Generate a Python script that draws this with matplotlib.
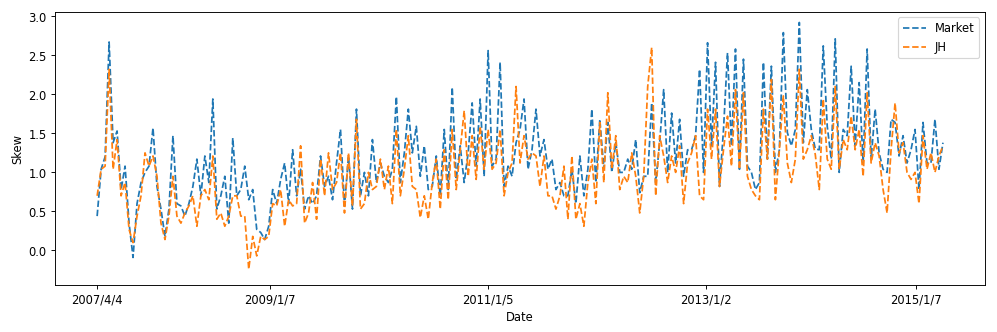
# Skew of market vs JH, weekly
import matplotlib
matplotlib.use("Agg")
import matplotlib.pyplot as plt
import numpy as np

# values (one point every ~4 px)
market = [0.44, 1.04, 1.20, 2.67, 1.38, 1.53, 0.78, 1.08, 0.35, -0.09,
          0.60, 0.87, 1.00, 1.08, 1.57, 0.82, 0.53, 0.18, 0.53, 1.47,
          0.60, 0.57, 0.44, 0.60, 0.82, 1.17, 0.70, 1.21, 0.87, 1.94,
          0.53, 0.70, 0.95, 0.35, 1.44, 0.70, 0.78, 1.08, 0.65, 0.78,
          0.27, 0.23, 0.14, 0.31, 0.78, 0.60, 0.91, 1.12, 0.60, 1.29,
          0.70, 1.04, 0.53, 0.70, 0.60, 0.70, 1.21, 0.82, 0.95, 0.65,
          1.12, 1.55, 0.57, 1.21, 0.53, 1.81, 0.70, 1.00, 0.70, 1.42,
          0.87, 1.12, 0.95, 0.87, 1.04, 1.97, 0.87, 1.25, 1.81, 1.25,
          1.59, 0.95, 1.34, 0.78, 0.82, 1.21, 0.70, 1.55, 0.78, 2.09,
          0.91, 1.34, 0.87, 1.25, 1.89, 1.08, 1.94, 0.95, 2.56, 1.08,
          1.17, 2.41, 0.82, 1.08, 0.95, 1.38, 1.55, 1.94, 1.04, 1.29,
          1.81, 1.21, 1.42, 1.04, 1.17, 0.78, 0.87, 0.70, 0.70, 1.04,
          0.60, 1.21, 0.70, 1.04, 1.81, 0.87, 1.68, 1.04, 1.64, 1.00,
          1.38, 1.00, 1.00, 1.17, 1.04, 1.42, 0.74, 0.95, 0.95, 1.89,
          0.87, 1.38, 2.06, 1.00, 1.76, 1.12, 1.68, 0.95, 1.29, 1.29,
          1.47, 2.32, 1.00, 2.66, 1.34, 2.41, 0.82, 1.55, 2.53, 1.34,
          2.58, 1.04, 2.45, 1.08, 1.00, 0.78, 0.87, 2.41, 1.17, 2.36,
          1.00, 1.29, 2.79, 1.51, 1.34, 1.55, 2.92, 1.38, 2.06, 1.55,
          1.30, 1.29, 2.62, 1.59, 1.17, 2.71, 1.00, 1.55, 1.47, 2.36,
          1.34, 2.15, 1.12, 2.58, 1.17, 1.81, 1.25, 1.04, 1.00, 1.68,
          1.64, 1.21, 1.47, 1.12, 1.29, 1.55, 0.78, 1.64, 1.12, 1.12,
          1.68, 1.04, 1.38]

jh = [0.70, 1.04, 1.08, 2.32, 1.04, 1.42, 0.70, 0.87, 0.27, 0.10,
      0.44, 0.70, 1.25, 1.08, 1.21, 0.95, 0.35, 0.14, 0.44, 0.95,
      0.44, 0.35, 0.48, 0.57, 0.70, 0.31, 0.70, 0.78, 0.65, 1.21,
      0.40, 0.48, 0.31, 0.44, 0.70, 0.70, 0.44, 0.44, -0.24, 0.18,
      -0.07, 0.18, 0.14, 0.18, 0.60, 0.57, 0.78, 0.31, 0.65, 0.57,
      0.60, 1.34, 0.35, 0.48, 0.87, 0.40, 1.17, 0.70, 1.25, 0.78,
      0.87, 1.25, 0.48, 1.25, 0.57, 1.68, 0.53, 0.60, 1.00, 0.78,
      0.82, 1.17, 0.78, 1.08, 0.60, 1.55, 0.70, 1.04, 1.47, 0.82,
      0.78, 0.42, 0.70, 0.40, 0.87, 1.17, 0.53, 1.29, 0.65, 1.55,
      0.78, 1.29, 1.79, 0.95, 1.47, 0.91, 1.59, 1.04, 1.55, 1.04,
      1.12, 1.55, 0.70, 1.00, 1.12, 2.10, 1.12, 1.47, 1.17, 1.25,
      1.21, 0.82, 1.21, 0.70, 0.70, 0.53, 0.70, 1.08, 0.40, 1.21,
      0.40, 0.60, 0.31, 0.87, 1.17, 0.60, 1.64, 0.87, 2.02, 1.04,
      1.47, 0.78, 0.95, 0.87, 1.25, 0.95, 0.48, 0.95, 2.10, 2.60,
      0.70, 1.47, 1.21, 0.87, 1.21, 1.00, 1.34, 0.60, 1.12, 1.25,
      1.47, 0.70, 0.65, 1.81, 1.17, 1.81, 0.82, 1.29, 1.72, 1.08,
      2.06, 1.04, 2.02, 0.95, 0.78, 0.70, 0.65, 1.81, 1.17, 2.19,
      0.65, 1.29, 1.98, 1.12, 0.87, 1.17, 2.32, 1.17, 1.29, 1.47,
      1.23, 0.78, 1.94, 1.17, 1.04, 2.10, 1.04, 1.42, 1.29, 1.72,
      1.29, 1.55, 0.95, 2.02, 1.12, 1.38, 1.21, 0.78, 0.48, 1.29,
      1.89, 1.25, 1.38, 1.00, 0.91, 1.00, 0.60, 1.47, 1.04, 1.25,
      1.00, 1.21, 1.34]

tick_pos = [0, 43.25, 98, 152.5, 205.25]
tick_labels = ["2007/4/4", "2009/1/7", "2011/1/5", "2013/1/2", "2015/1/7"]

x = np.arange(len(market))

# 12x4 inch figure drawn at ~83 dpi -> 997x332 px
fig, ax = plt.subplots(figsize=(12, 4), dpi=83.1)
fig.subplots_adjust(left=0.055, right=0.988, top=0.964, bottom=0.142)

ax.plot(x, market, "--", label="Market")
ax.plot(x, jh, "--", label="JH")

ax.set_xticks(tick_pos)
ax.set_xticklabels(tick_labels)
ax.set_ylim(-0.44, 3.06)
ax.set_xlabel("Date")
ax.set_ylabel("Skew")
ax.legend(loc="upper right")

fig.savefig("out.png", dpi=83.1)
